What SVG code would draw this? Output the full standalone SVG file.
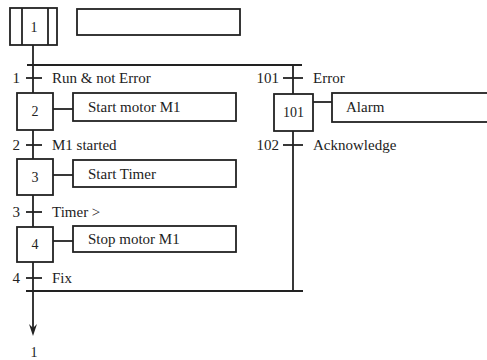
<svg xmlns="http://www.w3.org/2000/svg" width="487" height="360" viewBox="0 0 487 360">
<defs>
<style>
.box{fill:#fff;stroke:#222;stroke-width:1.8}
.ln{fill:none;stroke:#222;stroke-width:1.8}
.t{font-family:"Liberation Serif","Times New Roman",serif;font-size:15px;fill:#222}
.n{font-family:"Liberation Serif","Times New Roman",serif;font-size:14px;fill:#222;text-anchor:middle}
.e{text-anchor:end}
</style>
</defs>
<rect width="487" height="360" fill="#fff"/>
<g id="connectors">
<line class="ln" x1="33" y1="45" x2="33" y2="93"/>
<line class="ln" x1="27" y1="65" x2="302" y2="65"/>
<line class="ln" x1="26" y1="78" x2="42" y2="78"/>
<line class="ln" x1="33" y1="130" x2="33" y2="159"/>
<line class="ln" x1="26" y1="145" x2="42" y2="145"/>
<line class="ln" x1="33" y1="195" x2="33" y2="227"/>
<line class="ln" x1="26" y1="212" x2="42" y2="212"/>
<line class="ln" x1="33" y1="262" x2="33" y2="328"/>
<path d="M29,324 L33,328 L37,324 L33,336 Z" fill="#222"/>
<line class="ln" x1="26" y1="278" x2="42" y2="278"/>
<line class="ln" x1="26" y1="291" x2="303" y2="291"/>
<line class="ln" x1="293" y1="65" x2="293" y2="291"/>
<line class="ln" x1="283" y1="78" x2="303" y2="78"/>
<line class="ln" x1="283" y1="145" x2="303" y2="145"/>
<line class="ln" x1="53" y1="109" x2="73" y2="109"/>
<line class="ln" x1="53" y1="175" x2="73" y2="175"/>
<line class="ln" x1="53" y1="241" x2="73" y2="241"/>
<line class="ln" x1="313" y1="102" x2="332" y2="102"/>
</g>
<g id="step1">
<rect class="box" x="10" y="8" width="47" height="37" stroke-width="2.2"/>
<line class="ln" x1="22" y1="8" x2="22" y2="45"/>
<line class="ln" x1="48" y1="8" x2="48" y2="45"/>
<text class="n" x="34" y="32" font-size="12">1</text>
</g>
<g id="action1"><rect class="box" x="77" y="9" width="163" height="26" stroke-width="2"/></g>
<g id="trans1"><text class="t e" x="20" y="83">1</text><text class="t" x="52" y="83">Run &amp; not Error</text></g>
<g id="step2"><rect class="box" x="17" y="93" width="36" height="37"/><text class="n" x="35" y="116">2</text></g>
<g id="action2"><rect class="box" x="73" y="93" width="163" height="28"/><text class="t" x="88" y="112">Start motor M1</text></g>
<g id="trans2"><text class="t e" x="20" y="150">2</text><text class="t" x="52" y="150">M1 started</text></g>
<g id="step3"><rect class="box" x="17" y="159" width="36" height="36"/><text class="n" x="35" y="182">3</text></g>
<g id="action3"><rect class="box" x="73" y="160" width="163" height="27"/><text class="t" x="88" y="179">Start Timer</text></g>
<g id="trans3"><text class="t e" x="20" y="217">3</text><text class="t" x="52" y="217">Timer &gt;</text></g>
<g id="step4"><rect class="box" x="17" y="227" width="36" height="35"/><text class="n" x="35" y="249">4</text></g>
<g id="action4"><rect class="box" x="73" y="226" width="163" height="26"/><text class="t" x="88" y="244">Stop motor M1</text></g>
<g id="trans4"><text class="t e" x="20" y="283">4</text><text class="t" x="52" y="283">Fix</text></g>
<g id="trans101"><text class="t e" x="279" y="83">101</text><text class="t" x="313" y="83">Error</text></g>
<g id="step101"><rect class="box" x="274" y="94" width="39" height="37"/><text class="n" x="293.5" y="117">101</text></g>
<g id="action101"><rect class="box" x="332" y="93" width="160" height="29"/><text class="t" x="346" y="112">Alarm</text></g>
<g id="trans102"><text class="t e" x="279" y="150">102</text><text class="t" x="313" y="150">Acknowledge</text></g>
<g id="target"><text class="n" x="34" y="357">1</text></g>
</svg>
